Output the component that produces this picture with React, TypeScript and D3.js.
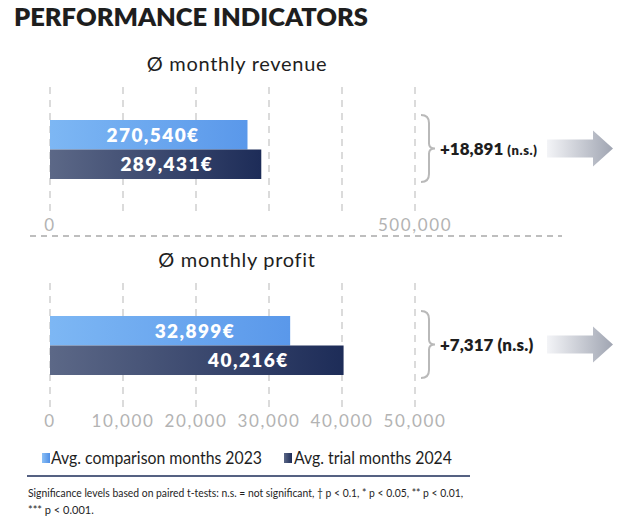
import React from "react";
import * as d3 from "d3";

const title = "PERFORMANCE INDICATORS";
const panelTitles = ["Ø monthly revenue", "Ø monthly profit"];
const comparison2023 = [270540, 32899];
const trial2024 = [289431, 40216];
const axisMax = [500000, 50000];
const tickCounts = [5, 5];
const labelledTicks = [[0, 500000], [0, 10000, 20000, 30000, 40000, 50000]];
const diffValues = ["+18,891", "+7,317"];
const diffSig = ["(n.s.)", "(n.s.)"];
const legendLabels = ["Avg. comparison months 2023", "Avg. trial months 2024"];
const footnoteLines = [
  "Significance levels based on paired t-tests: n.s. = not significant, † p < 0.1, * p < 0.05, ** p < 0.01,",
  "*** p < 0.001.",
];

const FONT = "Lato, 'Open Sans', sans-serif";
const W = 625;
const H = 529;
const panelTops = [87, 283];
const labelGap = [48, 55];

export default function App() {
  const fmt = d3.format(",");
  return (
    <svg width={W} height={H} style={{ position: "absolute", left: 0, top: 0, background: "#fff" }} fontFamily={FONT}>
      <defs>
        <linearGradient id="gLight" x1="0" x2="1" y1="0" y2="0">
          <stop offset="0" stopColor="#7db7f4" />
          <stop offset="1" stopColor="#5a98ea" />
        </linearGradient>
        <linearGradient id="gDark" x1="0" x2="1" y1="0" y2="0">
          <stop offset="0" stopColor="#5c6887" />
          <stop offset="1" stopColor="#1d2c58" />
        </linearGradient>
        <linearGradient id="gArrow" x1="0" x2="1" y1="0" y2="0">
          <stop offset="0" stopColor="#f3f4f7" />
          <stop offset="1" stopColor="#a0a5b2" />
        </linearGradient>
        <linearGradient id="gLegL" x1="0" x2="1" y1="0" y2="0">
          <stop offset="0" stopColor="#8cc0f6" />
          <stop offset="1" stopColor="#4f8fe6" />
        </linearGradient>
        <linearGradient id="gLegD" x1="0" x2="1" y1="0" y2="0">
          <stop offset="0" stopColor="#5c6887" />
          <stop offset="1" stopColor="#1d2c58" />
        </linearGradient>
      </defs>

      <text x={14} y={26} fontSize={24} fontWeight={800} fill="#1e1e1e" textLength={354} lengthAdjust="spacingAndGlyphs">
        {title}
      </text>

      {panelTitles.map((pt, i) => {
        const top = panelTops[i];
        const x = d3.scaleLinear().domain([0, axisMax[i]]).range([50, 415]);
        const grid = x.ticks(tickCounts[i]);
        const barTop = top + 33;
        const bh = 29.5;
        const vals = [comparison2023[i], trial2024[i]];
        const fills = ["url(#gLight)", "url(#gDark)"];
        const bTop = top + 28;
        const bBot = top + 95;
        const bMid = (bTop + bBot) / 2;
        const ax = 547;
        const ay = bMid;
        return (
          <g key={pt}>
            <text x={237} y={top - 16} fontSize={20} letterSpacing={0.7} textAnchor="middle" fill="#1e1e1e">
              {pt}
            </text>
            {grid.map((t) => (
              <line key={t} x1={x(t)} x2={x(t)} y1={top} y2={top + 125} stroke="#cfcfcf" strokeWidth={1.5} strokeDasharray="7,6" />
            ))}
            {vals.map((v, j) => (
              <g key={j}>
                <rect x={x(0)} y={barTop + j * bh} width={x(v) - x(0)} height={bh} fill={fills[j]} />
                <text
                  x={x(v) - labelGap[i]}
                  y={barTop + j * bh + bh / 2}
                  dy="0.36em"
                  textAnchor="end"
                  fontSize={19}
                  letterSpacing={1.4}
                  fontWeight={800}
                  fill="#fff"
                >
                  {fmt(v)}€
                </text>
              </g>
            ))}
            {labelledTicks[i].map((t) => (
              <text key={t} x={x(t)} y={top + 138} dy="0.36em" textAnchor="middle" fontSize={17} letterSpacing={1.6} fill="#b3b3b3">
                {fmt(t)}
              </text>
            ))}
            <path
              d={`M421,${bTop} Q429,${bTop} 429,${bTop + 8} L429,${bMid - 5} Q429,${bMid} 435,${bMid} Q429,${bMid} 429,${bMid + 5} L429,${bBot - 8} Q429,${bBot} 421,${bBot}`}
              fill="none"
              stroke="#b9b9b9"
              strokeWidth={2}
            />
            <text x={440} y={bMid} dy="0.36em" fontSize={17} fontWeight={800} fill="#1e1e1e">
              {diffValues[i]}
              <tspan fontSize={i === 0 ? 13 : 17} letterSpacing={i === 0 ? 0.6 : 0.2} dx={4}>{diffSig[i]}</tspan>
            </text>
            <path
              d={`M${ax},${ay - 9} L${ax + 46},${ay - 9} L${ax + 46},${ay - 18} L${ax + 66},${ay} L${ax + 46},${ay + 18} L${ax + 46},${ay + 9} L${ax},${ay + 9} Z`}
              fill="url(#gArrow)"
            />
          </g>
        );
      })}

      <line x1={30} x2={562} y1={236} y2={236} stroke="#a9a9a9" strokeWidth={1.5} strokeDasharray="6,5" />

      <rect x={42} y={453} width={8} height={10} fill="url(#gLegL)" />
      <text x={51} y={458} dy="0.36em" fontSize={17} textLength={211} lengthAdjust="spacingAndGlyphs" fill="#1e1e1e">{legendLabels[0]}</text>
      <rect x={284} y={453} width={8} height={10} fill="url(#gLegD)" />
      <text x={294} y={458} dy="0.36em" fontSize={17} textLength={158} lengthAdjust="spacingAndGlyphs" fill="#1e1e1e">{legendLabels[1]}</text>

      <line x1={27} x2={470} y1={476} y2={476} stroke="#1d2c58" strokeWidth={1.5} />

      <text x={28} y={497} fontSize={11} textLength={435} lengthAdjust="spacingAndGlyphs" fill="#1e1e1e">
        {footnoteLines[0]}
      </text>
      <text x={28} y={514} fontSize={11} fill="#1e1e1e">
        {footnoteLines[1]}
      </text>
    </svg>
  );
}
